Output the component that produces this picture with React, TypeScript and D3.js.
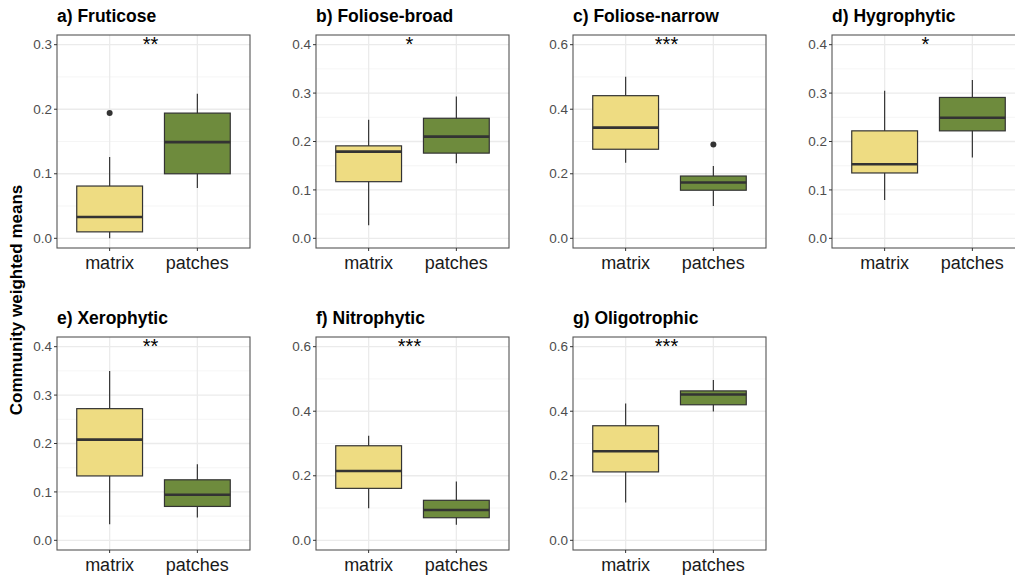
import React, { useEffect, useRef } from 'react';
import * as d3 from 'd3';

// panel titles, significance labels and y-axis upper limits
const titles = ['a) Fruticose', 'b) Foliose-broad', 'c) Foliose-narrow', 'd) Hygrophytic', 'e) Xerophytic', 'f) Nitrophytic', 'g) Oligotrophic'];
const stars = ['**', '*', '***', '*', '**', '***', '***'];
const yMax = [0.3, 0.4, 0.6, 0.4, 0.4, 0.6, 0.6];
const tickStep = [0.1, 0.1, 0.2, 0.1, 0.1, 0.2, 0.2];

const groups = ['matrix', 'patches'];

// [lower whisker, Q1, median, Q3, upper whisker]
const matrixStats = [
    [0.0, 0.01, 0.033, 0.081, 0.126],
    [0.027, 0.117, 0.179, 0.191, 0.245],
    [0.234, 0.276, 0.343, 0.442, 0.501],
    [0.079, 0.135, 0.153, 0.222, 0.305],
    [0.033, 0.133, 0.208, 0.272, 0.35],
    [0.099, 0.161, 0.215, 0.293, 0.324],
    [0.117, 0.212, 0.276, 0.355, 0.424],
];
const patchesStats = [
    [0.078, 0.1, 0.149, 0.194, 0.224],
    [0.155, 0.176, 0.21, 0.248, 0.293],
    [0.1, 0.149, 0.173, 0.193, 0.224],
    [0.167, 0.222, 0.249, 0.291, 0.327],
    [0.047, 0.07, 0.094, 0.125, 0.157],
    [0.048, 0.07, 0.094, 0.124, 0.182],
    [0.399, 0.42, 0.452, 0.463, 0.497],
];
const matrixOutliers = [[0.194], [], [], [], [], [], []];
const patchesOutliers = [[], [], [0.291], [], [], [], []];

const fills = ['#EEDC82', '#6E8B3D'];
const FONT = '"Liberation Sans", Arial, Helvetica, sans-serif';

const App = () => {
    const ref = useRef<SVGSVGElement>(null);

    useEffect(() => {
        const svg = d3.select(ref.current);
        svg.selectAll('*').remove();

        const colX = [57, 316, 573, 832];
        const rowY = [35, 337];
        const pw = 193;
        const ph = 213;

        titles.forEach((title, i) => {
            const px = colX[i % 4];
            const py = rowY[Math.floor(i / 4)];
            const g = svg.append('g').attr('transform', `translate(${px},${py})`);

            const pad = yMax[i] * 0.05;
            const y = d3.scaleLinear().domain([-pad, yMax[i] + pad]).range([ph, 0]);
            const x = d3.scalePoint().domain(groups).range([0, pw]).padding(0.6);
            const bw = x.step() * 0.75;

            const major = d3.range(0, yMax[i] + 1e-9, tickStep[i]);
            const minor = d3.range(tickStep[i] / 2, yMax[i], tickStep[i]);

            // background grid
            g.append('rect').attr('width', pw).attr('height', ph).attr('fill', 'white');
            g.selectAll('.minor').data(minor).enter().append('line')
                .attr('x1', 0).attr('x2', pw)
                .attr('y1', d => y(d)).attr('y2', d => y(d))
                .attr('stroke', '#F2F2F2').attr('stroke-width', 0.8);
            g.selectAll('.major').data(major).enter().append('line')
                .attr('x1', 0).attr('x2', pw)
                .attr('y1', d => y(d)).attr('y2', d => y(d))
                .attr('stroke', '#EBEBEB').attr('stroke-width', 1.3);
            g.selectAll('.vgrid').data(groups).enter().append('line')
                .attr('x1', d => x(d)!).attr('x2', d => x(d)!)
                .attr('y1', 0).attr('y2', ph)
                .attr('stroke', '#EBEBEB').attr('stroke-width', 1.3);

            // boxes
            const stats = [matrixStats[i], patchesStats[i]];
            const outs = [matrixOutliers[i], patchesOutliers[i]];
            groups.forEach((grp, k) => {
                const s = stats[k];
                const cx = x(grp)!;
                g.append('line').attr('x1', cx).attr('x2', cx)
                    .attr('y1', y(s[0])).attr('y2', y(s[4]))
                    .attr('stroke', '#333333').attr('stroke-width', 1.2);
                g.append('rect')
                    .attr('x', cx - bw / 2).attr('width', bw)
                    .attr('y', y(s[3])).attr('height', y(s[1]) - y(s[3]))
                    .attr('fill', fills[k]).attr('stroke', '#333333').attr('stroke-width', 1.2);
                g.append('line').attr('x1', cx - bw / 2).attr('x2', cx + bw / 2)
                    .attr('y1', y(s[2])).attr('y2', y(s[2]))
                    .attr('stroke', '#333333').attr('stroke-width', 2.6);
                g.selectAll(null).data(outs[k]).enter().append('circle')
                    .attr('cx', cx).attr('cy', d => y(d)).attr('r', 3)
                    .attr('fill', '#333333');
            });

            // panel border
            g.append('rect').attr('width', pw).attr('height', ph)
                .attr('fill', 'none').attr('stroke', '#555555').attr('stroke-width', 1.1);

            // y axis
            g.selectAll('.yt').data(major).enter().append('line')
                .attr('x1', -3).attr('x2', 0)
                .attr('y1', d => y(d)).attr('y2', d => y(d))
                .attr('stroke', '#333333').attr('stroke-width', 1);
            g.selectAll('.yl').data(major).enter().append('text')
                .attr('x', -5).attr('y', d => y(d)).attr('dy', '0.35em')
                .attr('text-anchor', 'end').attr('font-family', FONT)
                .attr('font-size', 13.5).attr('fill', '#4D4D4D')
                .text(d => d3.format('.1f')(d));

            // x axis
            g.selectAll('.xt').data(groups).enter().append('line')
                .attr('x1', d => x(d)!).attr('x2', d => x(d)!)
                .attr('y1', ph).attr('y2', ph + 3)
                .attr('stroke', '#333333').attr('stroke-width', 1);
            g.selectAll('.xl').data(groups).enter().append('text')
                .attr('x', d => x(d)!).attr('y', ph + 21)
                .attr('text-anchor', 'middle').attr('font-family', FONT)
                .attr('font-size', 18).attr('fill', '#1A1A1A')
                .text(d => d);

            // title and significance
            g.append('text').attr('x', 0).attr('y', -13)
                .attr('font-family', FONT).attr('font-weight', 'bold')
                .attr('font-size', 17.5).attr('fill', 'black')
                .text(title);
            g.append('text').attr('x', pw / 2 - 3).attr('y', 16)
                .attr('text-anchor', 'middle').attr('font-family', FONT)
                .attr('font-size', 20).attr('fill', 'black')
                .text(stars[i]);
        });

        svg.append('text')
            .attr('transform', 'translate(22,300) rotate(-90)')
            .attr('text-anchor', 'middle').attr('font-family', FONT)
            .attr('font-weight', 'bold').attr('font-size', 17).attr('fill', 'black')
            .text('Community weighted means');
    }, []);

    return (
        <svg ref={ref} width={1015} height={577}
            style={{ position: 'absolute', left: 0, top: 0, background: 'white' }} />
    );
};

export default App;
